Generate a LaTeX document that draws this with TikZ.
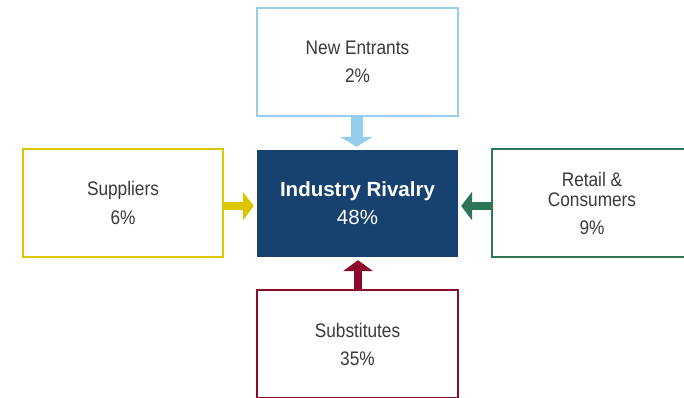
\documentclass[tikz,border=0pt]{standalone}
\usepackage{fontspec}
\setmainfont{Liberation Sans}[FakeStretch=0.88]
\newfontfamily\midfont{Liberation Sans}
\usetikzlibrary{arrows.meta,calc}
\definecolor{nelight}{HTML}{96CDEE}
\definecolor{supyel}{HTML}{DCC600}
\definecolor{retgreen}{HTML}{2E7558}
\definecolor{subred}{HTML}{8B0A2B}
\definecolor{midnavy}{HTML}{17426F}
\definecolor{txtgray}{HTML}{3A3A3A}
\tikzset{
  forcebox/.style={draw=#1, line width=2pt, fill=white, inner sep=0pt,
    minimum width=201pt, minimum height=108pt, align=center,
    text=txtgray, font=\fontsize{19.6}{20}\selectfont},
  midbox/.style={fill=midnavy, inner sep=0pt, minimum width=201pt,
    minimum height=107pt, align=center, text=white,
    font=\midfont\fontsize{20.5}{21}\selectfont},
  forcearrow/.style={draw=#1, line width=8pt, shorten >=3pt,
    -{Triangle[width=29pt,length=11pt,line width=0pt]}},
}
\begin{document}
\begin{tikzpicture}[x=1pt,y=-1pt]
\useasboundingbox (0,0) rectangle (684,397);
\clip (0,0) rectangle (684,397);
\fill[white] (0,0) rectangle (684,397);
\node[midbox] (mid) at (357.5,203.5) {\bfseries Industry Rivalry\\[7pt]48\%};
\node[forcebox=nelight] (ne) at (357.5,62) {New Entrants\\[8pt]2\%};
\node[forcebox=supyel, minimum width=200pt] (sup) at (123,203) {Suppliers\\[9pt]6\%};
\node[forcebox=retgreen, minimum width=200pt] (ret) at (592,203) {Retail \&\\Consumers\\[8pt]9\%};
\node[forcebox=subred] (sub) at (357.5,344) {Substitutes\\[8pt]35\%};
\draw[forcearrow=nelight, line width=12pt, -{Triangle[width=33pt,length=10pt,line width=0pt]}]
  ($(ne.south)+(-1,0)$) -- ($(mid.north)+(-1,0)$);
\draw[forcearrow=supyel] ($(sup.east)+(0,3)$) -- ($(mid.west)+(0,2.5)$);
\draw[forcearrow=retgreen] ($(ret.west)+(0,3)$) -- ($(mid.east)+(0,2.5)$);
\draw[forcearrow=subred, -{Triangle[width=30pt,length=11pt,line width=0pt]}]
  ($(sub.north)+(0.5,0)$) -- ($(mid.south)+(0.5,0)$);
\end{tikzpicture}
\end{document}
